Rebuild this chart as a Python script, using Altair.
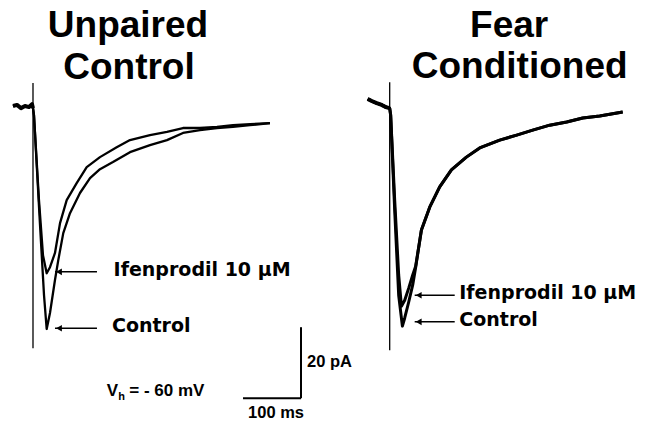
import altair as alt
import pandas as pd

# ---------------- data: time (ms after stimulus), current (pA) ----------------
left_base_t = [-34.5, -27.6, -20.7, -13.8, -6.9, -1.7, 0.0]
left_base_i = [0.3, 0.6, -0.3, 0.3, 0.0, 0.8, -0.3]

left_ctrl_t = [1.7, 12.1, 19.0, 23.6, 29.3, 37.9, 43.6, 52.2, 63.8, 81.0, 98.3,
               115.5, 137.9, 167.2, 201.7, 231.0, 258.6, 287.9, 317.2, 344.8, 374.1, 408.6]
left_ctrl_i = [-2.3, -33.2, -53.0, -62.5, -58.0, -48.7, -43.1, -35.5, -29.9, -24.2, -20.0,
               -17.5, -15.5, -12.7, -10.7, -9.3, -7.3, -6.5, -5.9, -5.6, -5.1, -4.5]

left_ifen_t = [1.7, 10.3, 17.2, 23.6, 29.3, 37.9, 46.6, 58.1, 75.3, 92.6, 115.5,
               144.3, 167.2, 201.7, 231.0, 258.6, 287.9, 317.2, 344.8, 374.1, 408.6]
left_ifen_i = [-2.3, -26.2, -41.7, -46.8, -45.1, -41.1, -32.7, -26.2, -21.4, -16.9, -14.1,
               -11.3, -9.3, -7.9, -7.0, -5.9, -5.9, -5.6, -5.1, -4.8, -4.5]

right_base_t = [-37.9, -31.0, -22.4, -13.8, -6.9, 0.0]
right_base_i = [2.3, 1.7, 1.1, 0.6, 0.0, -0.3]

right_ctrl_t = [1.7, 8.6, 15.5, 21.9, 25.9, 32.8, 39.7, 44.8, 54.7, 69.0, 86.2, 106.4,
                132.2, 155.2, 189.7, 219.0, 246.6, 275.9, 305.2, 332.8, 362.1, 401.7]
right_ctrl_i = [-2.3, -29.0, -53.0, -61.7, -59.4, -54.9, -50.1, -45.1, -34.6, -28.2, -22.5, -17.7,
                -14.1, -11.5, -9.3, -7.9, -6.5, -5.1, -4.2, -3.1, -2.5, -1.4]

right_ifen_t = [1.7, 8.6, 15.5, 20.2, 25.9, 32.8, 39.7, 44.8, 54.7, 69.0, 86.2, 106.4,
                132.2, 155.2, 189.7, 219.0, 246.6, 275.9, 305.2, 332.8, 362.1, 401.7]
right_ifen_i = [-2.3, -26.2, -47.3, -56.1, -54.4, -51.0, -47.3, -44.8, -34.6, -28.2, -22.5, -17.7,
                -14.1, -11.5, -9.3, -7.9, -6.5, -5.1, -4.2, -3.1, -2.5, -1.4]

# peak currents the arrows point at (pA)
left_peaks = {"Ifenprodil 10 µM": -46.4, "Control": -62.3}
right_peaks = {"Ifenprodil 10 µM": -53.0, "Control": -60.5}

titles_left = ["Unpaired", "Control"]
titles_right = ["Fear", "Conditioned"]

scale_ms = 100   # time scale bar
scale_pa = 20    # current scale bar
holding = "= - 60 mV"

# ---------------- layout (in data units) ----------------
RIGHT_OFFSET = 615.0  # ms: where the second recording is placed
XS = alt.Scale(domain=[-43.1, 1048.3], nice=False, zero=False)
YS = alt.Scale(domain=[-88.7, 27.9], nice=False, zero=False)


def trace(name, t, i, off):
    return pd.DataFrame({"t": [v + off for v in t], "I": i, "trace": name})


left_traces = pd.concat([
    trace("Lc", left_base_t + left_ctrl_t, left_base_i + left_ctrl_i, 0.0),
    trace("Li", left_base_t + left_ifen_t, left_base_i + left_ifen_i, 0.0),
], ignore_index=True)
right_traces = pd.concat([
    trace("Rc", right_base_t + right_ctrl_t, right_base_i + right_ctrl_i, RIGHT_OFFSET),
    trace("Ri", right_base_t + right_ifen_t, right_base_i + right_ifen_i, RIGHT_OFFSET),
], ignore_index=True)
baselines = pd.concat([
    trace("Lb", left_base_t, left_base_i, 0.0),
    trace("Rb", right_base_t, right_base_i, RIGHT_OFFSET),
], ignore_index=True)

X = lambda f="t": alt.X(f"{f}:Q", scale=XS, axis=None)
Y = lambda f="I": alt.Y(f"{f}:Q", scale=YS, axis=None)

lines_l = alt.Chart(left_traces).mark_line(color="black", strokeWidth=2.3, strokeJoin="round").encode(
    x=X(), y=Y(), detail="trace:N")
lines_r = alt.Chart(right_traces).mark_line(color="black", strokeWidth=3.0, strokeJoin="round").encode(
    x=X(), y=Y(), detail="trace:N")
base_lines = alt.Chart(baselines).mark_line(color="black", strokeWidth=4.0, strokeJoin="round").encode(
    x=X(), y=Y(), detail="trace:N")

artifact = alt.Chart(pd.DataFrame({"t": [0.0, RIGHT_OFFSET], "a": [6.8, 7.0], "b": [-67.9, -68.5]})
                     ).mark_rule(color="black", strokeWidth=1.3).encode(
    x=X(), y=Y("a"), y2="b:Q")

# arrows
arr_rows = []
for k, v in left_peaks.items():
    arr_rows.append({"t0": 37.9, "t1": 110.3, "th": 44.8, "I": v, "lab": k,
                     "tl": 139.0 if k != "Control" else 136.2})
for k, v in right_peaks.items():
    arr_rows.append({"t0": RIGHT_OFFSET + 43.1, "t1": RIGHT_OFFSET + 112.1, "th": RIGHT_OFFSET + 50.0,
                     "I": v, "lab": k, "tl": RIGHT_OFFSET + 120.0})
arr = pd.DataFrame(arr_rows)

arrow_lines = alt.Chart(arr).mark_rule(color="black", strokeWidth=1.5).encode(
    x=X("t0"), x2="t1:Q", y=Y())
arrow_heads = alt.Chart(arr).mark_point(shape="triangle-left", filled=True, color="black",
                                        opacity=1, size=45).encode(x=X("th"), y=Y())
labels = alt.Chart(arr).mark_text(align="left", baseline="middle", font="DejaVu Sans",
                                  fontWeight="bold", fontSize=19, dy=-2, color="black").encode(
    x=X("tl"), y=Y(), text="lab:N")

# titles
tit = pd.DataFrame({
    "t": [163.8, 165.5, RIGHT_OFFSET + 206.0, RIGHT_OFFSET + 224.1],
    "I": [19.7, 8.0, 19.7, 8.2],
    "txt": titles_left + titles_right,
})
titles = alt.Chart(tit).mark_text(align="center", baseline="alphabetic", font="Liberation Sans",
                                  fontWeight="bold", fontSize=37, color="black").encode(
    x=X(), y=Y(), text="txt:N")

# scale bars
bar_t1 = 462.1
bar_i0 = -82.0
hbar = alt.Chart(pd.DataFrame({"a": [bar_t1 - scale_ms], "b": [bar_t1], "I": [bar_i0]})).mark_rule(
    color="black", strokeWidth=2).encode(x=X("a"), x2="b:Q", y=Y())
vbar = alt.Chart(pd.DataFrame({"t": [bar_t1], "a": [bar_i0], "b": [bar_i0 + scale_pa]})).mark_rule(
    color="black", strokeWidth=2).encode(x=X(), y=Y("a"), y2="b:Q")

sb_pa = alt.Chart(pd.DataFrame({"t": [472.4], "I": [-71.8], "txt": [f"{scale_pa} pA"]})).mark_text(
    align="left", baseline="middle", font="Liberation Sans", fontWeight="bold", fontSize=16.5,
    color="black").encode(x=X(), y=Y(), text="txt:N")
sb_ms = alt.Chart(pd.DataFrame({"t": [419.0], "I": [-86.3], "txt": [f"{scale_ms} ms"]})).mark_text(
    align="center", baseline="middle", font="Liberation Sans", fontWeight="bold", fontSize=16.5,
    color="black").encode(x=X(), y=Y(), text="txt:N")

vh_v = alt.Chart(pd.DataFrame({"t": [127.1], "I": [-80.0], "txt": ["V"]})).mark_text(
    align="left", baseline="middle", font="Liberation Sans", fontWeight="bold", fontSize=17,
    color="black").encode(x=X(), y=Y(), text="txt:N")
vh_h = alt.Chart(pd.DataFrame({"t": [147.1], "I": [-81.6], "txt": ["h"]})).mark_text(
    align="left", baseline="middle", font="Liberation Sans", fontWeight="bold", fontSize=11,
    color="black").encode(x=X(), y=Y(), text="txt:N")
vh_rest = alt.Chart(pd.DataFrame({"t": [166.0], "I": [-80.0], "txt": [holding]})).mark_text(
    align="left", baseline="middle", font="Liberation Sans", fontWeight="bold", fontSize=17,
    color="black").encode(x=X(), y=Y(), text="txt:N")

chart = alt.layer(
    lines_l, lines_r, base_lines, artifact, arrow_lines, arrow_heads, labels, titles,
    hbar, vbar, sb_pa, sb_ms, vh_v, vh_h, vh_rest,
).properties(
    width=633, height=414,
    autosize=alt.AutoSizeParams(type="none"),
    padding=0,
    background="white",
).configure_view(stroke=None)

chart.save("out.html", embed_options={"renderer": "svg", "actions": False})
